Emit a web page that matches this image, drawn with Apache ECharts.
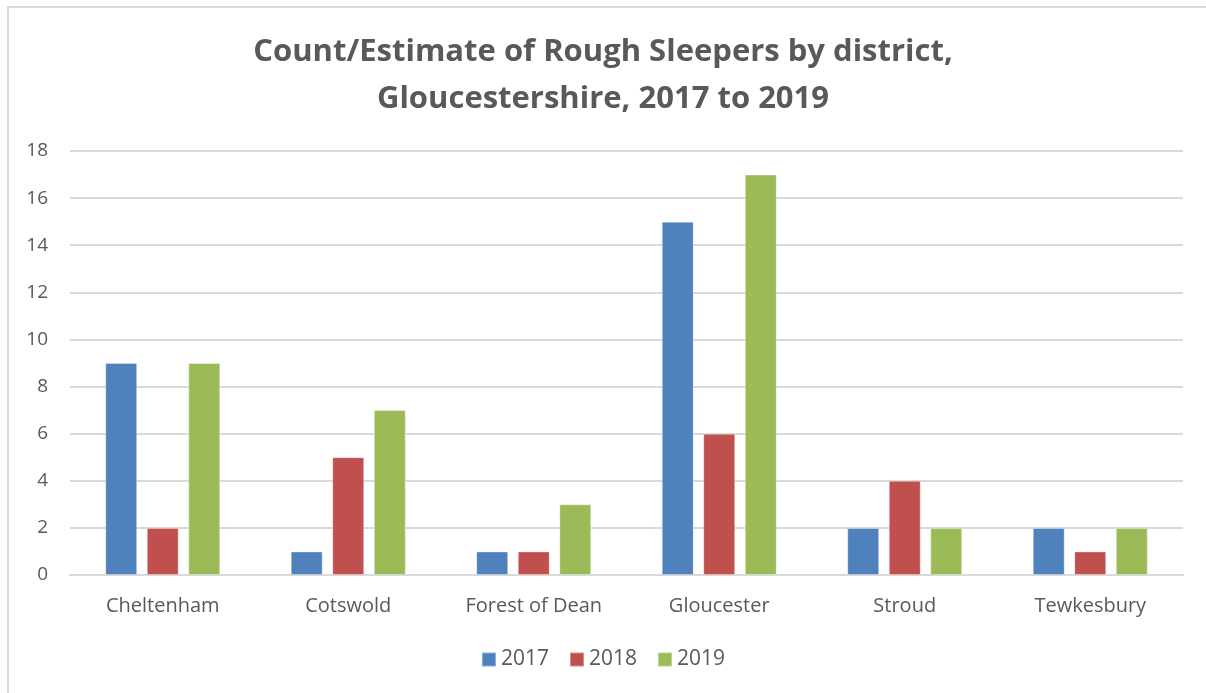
<!DOCTYPE html>
<html><head><meta charset="utf-8">
<script src="https://cdn.jsdelivr.net/npm/echarts@6/dist/echarts.min.js"></script>
<style>
html,body{margin:0;padding:0;background:#fff;overflow:hidden}
#frame{position:absolute;left:7px;top:6px;width:1400px;height:900px;border:2px solid #d9d9d9;box-sizing:border-box}
#c{position:absolute;left:0;top:0;width:1206px;height:693px}
</style></head>
<body><div id="frame"></div><div id="c"></div>
<script>
const categories = ["Cheltenham","Cotswold","Forest of Dean","Gloucester","Stroud","Tewkesbury"];
const seriesNames = ["2017","2018","2019"];
const v2017 = [9,1,1,15,2,2];
const v2018 = [2,5,1,6,4,1];
const v2019 = [9,7,3,17,2,2];
const colors = ["#4f81bd","#c0504d","#9bbb59"];
const txt = "#595959";
const font = "Open Sans";
const chart = echarts.init(document.getElementById('c'));
const mk = (name, data, i) => ({
  name, type:'bar', data, barGap:'30%', barCategoryGap:'38%',
  itemStyle:{color:colors[i], borderColor:'rgba(255,255,255,0.35)', borderWidth:1}
});
chart.setOption({
  animation:false,
  textStyle:{fontFamily:font},
  title:{text:"Count/Estimate of Rough Sleepers by district,\nGloucestershire, 2017 to 2019", left:'center', top:24,
    textStyle:{fontFamily:font, fontWeight:'bold', fontSize:31, color:txt, lineHeight:47}},
  legend:{bottom:18, left:'center', itemWidth:14, itemHeight:14, itemGap:20, icon:'rect',
    textStyle:{color:txt, fontSize:21, fontFamily:font}},
  grid:{left:70, right:23, top:151, bottom:118},
  xAxis:{type:'category', data:categories,
    axisLine:{lineStyle:{color:'#d9d9d9', width:2}}, axisTick:{show:false},
    axisLabel:{color:txt, fontSize:20, margin:21, fontFamily:font}},
  yAxis:{type:'value', min:0, max:18, interval:2,
    axisLine:{show:false}, axisTick:{show:false},
    splitLine:{lineStyle:{color:'#d9d9d9', width:2}},
    axisLabel:{color:txt, fontSize:19, margin:22, fontFamily:font, align:'right'}},
  series:[mk(seriesNames[0],v2017,0), mk(seriesNames[1],v2018,1), mk(seriesNames[2],v2019,2)]
});
</script></body></html>
